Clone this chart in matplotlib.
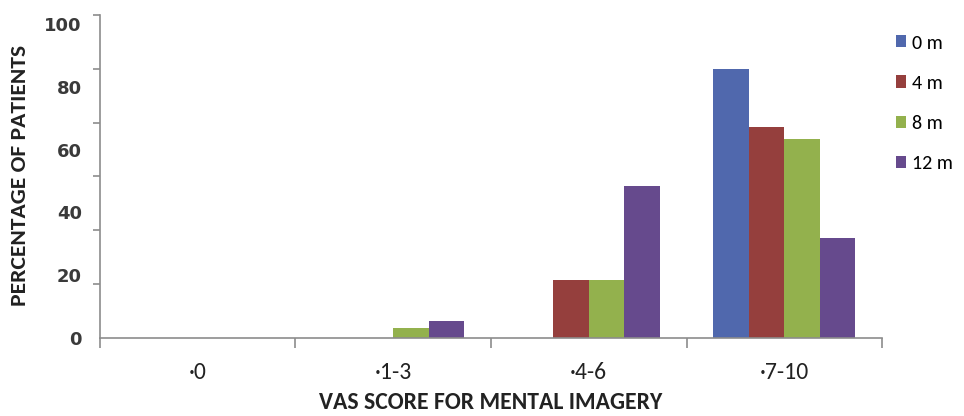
import matplotlib
matplotlib.use("Agg")
import matplotlib.pyplot as plt
from matplotlib import font_manager
from matplotlib.patches import Patch
from matplotlib.ticker import FixedLocator
import numpy as np

# VAS score groups and share of patients (%) at each follow-up
categories = ["\u00b70", "\u00b71-3", "\u00b74-6", "\u00b77-10"]
series_names = ["0 m", "4 m", "8 m", "12 m"]
pct_0m = [0, 0, 0, 85.7]
pct_4m = [0, 0, 18.6, 67.1]
pct_8m = [0, 3.2, 18.6, 63.3]
pct_12m = [0, 5.3, 48.4, 31.7]
y_labels = [0, 20, 40, 60, 80, 100]

colors = ["#5068AD", "#953F3D", "#93B14D", "#664A8D"]

# Calibri-like face if there is one
installed = {f.name for f in font_manager.fontManager.ttflist}
face = next((n for n in ["Carlito", "PT Sans Narrow", "Open Sans Condensed"]
             if n in installed), "DejaVu Sans")

fig = plt.figure(figsize=(9.64, 4.16), dpi=100)
ax = fig.add_axes([0.1037, 0.1875, 0.8113, 0.7765])

x = np.arange(len(categories))
w = 0.182
for i, (vals, c) in enumerate(zip([pct_0m, pct_4m, pct_8m, pct_12m], colors)):
    ax.bar(x + (i - 1.5) * w, vals, width=w, color=c, edgecolor="none")

ax.set_xlim(-0.5, len(categories) - 0.5)
ax.set_ylim(0, 120 * 6 / 7)

for s in ["top", "right"]:
    ax.spines[s].set_visible(False)
for s in ["left", "bottom"]:
    ax.spines[s].set_color("#8c8c8c")
    ax.spines[s].set_linewidth(1.2)

# y: labelled values without marks, marks on their own minor grid
ax.set_yticks(y_labels)
ax.set_yticklabels([str(v) for v in y_labels], fontsize=13, fontweight="bold",
                   color="#3a3a3a")
ax.yaxis.set_minor_locator(FixedLocator([k * 120 / 7 for k in range(7)]))
ax.tick_params(axis="y", which="major", length=0, pad=13)
ax.tick_params(axis="y", which="minor", length=5, color="#8c8c8c", width=1.2)

# x: labels at group centres, marks at group boundaries
ax.set_xticks(x)
ax.set_xticklabels(categories, fontsize=17, family=face, color="#222222")
ax.xaxis.set_minor_locator(FixedLocator(np.arange(-0.5, len(categories), 1.0)))
ax.tick_params(axis="x", which="major", length=0, pad=17)
ax.tick_params(axis="x", which="minor", length=7, color="#8c8c8c", width=1.2)

ax.set_xlabel("VAS SCORE FOR MENTAL IMAGERY", fontsize=17, fontweight="bold",
              family=face, color="#222222", labelpad=7)
fig.text(0.021, 0.578, "PERCENTAGE OF PATIENTS", rotation=90, ha="center",
         va="center", fontsize=16.9, fontweight="bold", family=face,
         color="#222222")

handles = [Patch(facecolor=c, edgecolor="none") for c in colors]
fig.legend(handles, series_names, loc="upper left",
           bbox_to_anchor=(0.929, 0.917), frameon=False,
           prop={"family": face, "size": 14.5},
           handlelength=0.53, handleheight=0.55, handletextpad=0.3,
           labelspacing=1.15, borderpad=0, borderaxespad=0)

fig.savefig("out.png", dpi=100)
